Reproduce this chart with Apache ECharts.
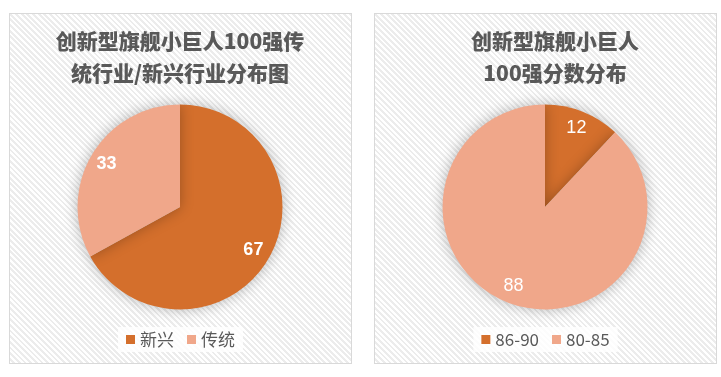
<!DOCTYPE html>
<html>
<head>
<meta charset="utf-8">
<script src="https://cdn.jsdelivr.net/npm/echarts@6/dist/echarts.min.js"></script>
<style>
  html, body { margin: 0; padding: 0; background: #fff; }
  .panel {
    position: absolute;
    top: 13px;
    width: 343px;
    height: 351px;
    box-sizing: border-box;
    border: 1px solid #d9d9d9;
    background: repeating-linear-gradient(45deg, #ffffff 0px, #ffffff 2px, #ececec 2px, #ececec 4px);
  }
  #left { left: 9px; }
  #right { left: 374px; }
</style>
</head>
<body>
<div id="left" class="panel"></div>
<div id="right" class="panel"></div>
<script>
// 传统/新兴行业分布
const industryNames = ['新兴', '传统']
const industryValues = [67, 33]
// 分数分布
const scoreNames = ['86-90', '80-85']
const scoreValues = [12, 88]

const colors = ['#d46f2c', '#f0a78a']
const textColor = '#595959'

function makeOption(title, titleX, names, values, labelWeight) {
  const data = names.map((n, i) => ({ name: n, value: values[i], itemStyle: { color: colors[i] } }))
  return {
    title: {
      text: title,
      left: titleX,
      top: 11,
      padding: 0,
      textAlign: 'center',
      textStyle: {
        fontFamily: 'Noto Sans CJK SC',
        fontSize: 21,
        fontWeight: 900,
        lineHeight: 32,
        color: textColor
      }
    },
    legend: {
      top: 313,
      left: 'center',
      data: names,
      itemWidth: 9,
      itemHeight: 9,
      itemGap: 13,
      icon: 'rect',
      padding: [4, 8],
      backgroundColor: 'rgba(255,255,255,0.85)',
      textStyle: {
        fontFamily: 'Noto Sans CJK SC',
        fontSize: 17,
        color: textColor
      }
    },
    series: [
      {
        type: 'pie',
        center: [170, 193],
        radius: [0, 102.5],
        startAngle: 90,
        clockwise: true,
        silent: true,
        label: { show: false },
        labelLine: { show: false },
        itemStyle: {
          shadowBlur: 14,
          shadowColor: 'rgba(0, 0, 0, 0.28)'
        },
        data: data
      },
      {
        // 只显示数值标签
        type: 'pie',
        center: [170, 193],
        radius: [62, 102.5],
        startAngle: 90,
        clockwise: true,
        silent: true,
        itemStyle: { color: 'transparent' },
        labelLine: { show: false },
        label: {
          show: true,
          position: 'inside',
          formatter: '{c}',
          color: '#fff',
          fontFamily: 'Liberation Sans',
          fontSize: 18,
          fontWeight: labelWeight
        },
        data: names.map((n, i) => ({ name: n, value: values[i] }))
      }
    ]
  }
}

const leftChart = echarts.init(document.getElementById('left'))
leftChart.setOption(makeOption('创新型旗舰小巨人100强传\n统行业/新兴行业分布图', 170, industryNames, industryValues, 'bold'))

const rightChart = echarts.init(document.getElementById('right'))
rightChart.setOption(makeOption('创新型旗舰小巨人\n100强分数分布', 180, scoreNames, scoreValues, 'normal'))
</script>
</body>
</html>
